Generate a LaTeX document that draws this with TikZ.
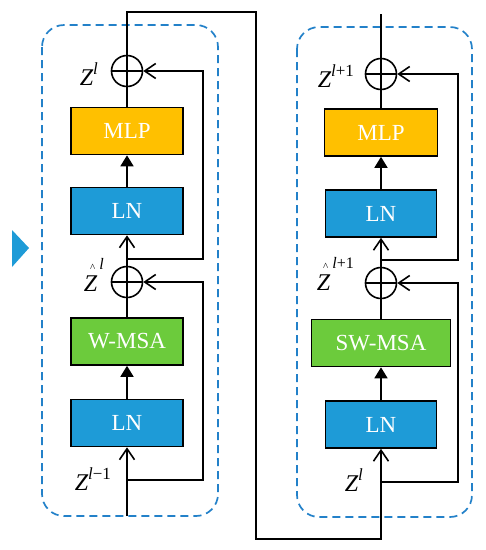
\documentclass[tikz,border=0pt]{standalone}
\usepackage{fontspec}
\setmainfont{Liberation Serif}
\usetikzlibrary{arrows.meta,positioning}
\definecolor{lnblue}{HTML}{1E9BD7}
\definecolor{mlporange}{HTML}{FFC000}
\definecolor{msagreen}{HTML}{6CCB3C}
\definecolor{dashblue}{HTML}{2381C9}
\newcommand\zsup[1]{Z\raisebox{11pt}{\fontsize{17}{17}\selectfont #1}}
\newcommand\zhat[1]{Z\hspace{-7pt}\raisebox{20pt}{\fontsize{11}{11}\selectfont\upshape\textasciicircum}\hspace{4pt}\raisebox{22pt}{\fontsize{16}{16}\selectfont #1}}
\begin{document}
\begin{tikzpicture}[x=1pt, y=-1pt, line width=1.6pt, font=\fontsize{23}{26}\selectfont]
    \tikzstyle{block}=[draw=black, line width=1.6pt, minimum width=112pt, minimum height=47pt, inner sep=0pt, text=white, align=center]
    \tikzstyle{lnbox}=[block, fill=lnblue]
    \tikzstyle{mlpbox}=[block, fill=mlporange]
    \tikzstyle{msabox}=[block, fill=msagreen]
    \tikzstyle{addop}=[draw, circle, minimum size=31pt, inner sep=0pt, path picture={\draw (path picture bounding box.west) -- (path picture bounding box.east) (path picture bounding box.north) -- (path picture bounding box.south);}]
    \tikzstyle{zlabel}=[font=\fontsize{24}{26}\selectfont\itshape, inner sep=0pt, anchor=base west]
    \tikzstyle{stage}=[draw=dashblue, line width=1.7pt, dash pattern=on 8pt off 5pt, rounded corners=22pt]
    \tikzstyle{skip}=[-{Straight Barb[length=11pt,width=15pt]}]
    \tikzstyle{feed}=[-{Triangle[length=11pt,width=13pt]}]

    \useasboundingbox (0,0) rectangle (486,550);

    \draw[stage] (42,25) rectangle (218,516);
    \draw[stage] (297,27) rectangle (472,517);
    \fill[lnblue] (12,230) -- (29,248) -- (12,267) -- cycle;

    % W-MSA block
    \node[addop] (add1L) at (127,71) {};
    \node[mlpbox] (mlpL) at (127,131) {MLP};
    \node[lnbox] (lnaL) at (127,211) {LN};
    \node[addop] (add2L) at (127,282) {};
    \node[msabox] (wmsaL) at (127,341.5) {W-MSA};
    \node[lnbox] (lnbL) at (127,423) {LN};

    \node[zlabel] (zl1) at (79,85) {\zsup{l}};
    \node[zlabel] (zl2) at (83,291) {\zhat{l}};
    \node[zlabel] (zl3) at (74,490) {\zsup{l\textup{−1}}};

    \coordinate (inL) at (127,516);
    \coordinate (brL1) at (127,259);
    \coordinate (brL2) at (127,480);
    \coordinate (skipL) at (203,0);

    % SW-MSA block
    \node[addop] (add1R) at (381,74) {};
    \node[mlpbox, minimum width=113pt] (mlpR) at (381,132.5) {MLP};
    \node[lnbox, minimum width=111pt] (lnaR) at (381,213.5) {LN};
    \node[addop] (add2R) at (381,283) {};
    \node[msabox, minimum width=139pt] (swmsaR) at (381,343) {SW-MSA};
    \node[lnbox, minimum width=111pt] (lnbR) at (381,424.5) {LN};

    \node[zlabel] (zr1) at (317,87) {\zsup{l\textup{+1}}};
    \node[zlabel] (zr2) at (316,290) {\zhat{l\textup{+1}}};
    \node[zlabel] (zr3) at (344,491) {\zsup{l}};

    \coordinate (outR) at (381,14);
    \coordinate (brR1) at (381,260);
    \coordinate (brR2) at (381,482);
    \coordinate (skipR) at (458,0);
    \coordinate (topM) at (256,12);
    \coordinate (botR) at (381,539);

    \draw[skip] (inL) -- (lnbL.south);
    \draw[feed] (lnbL.north) -- (wmsaL.south);
    \draw (wmsaL.north) -- (add2L.south);
    \draw[skip] (add2L.north) -- (lnaL.south);
    \draw[feed] (lnaL.north) -- (mlpL.south);
    \draw (mlpL.north) -- (add1L.south);
    \draw[skip] (brL2) -- (brL2 -| skipL) |- (add2L.east);
    \draw[skip] (brL1) -- (brL1 -| skipL) |- (add1L.east);

    \draw[skip] (add1L.north) |- (topM) |- (botR) -- (lnbR.south);
    \draw[feed] (lnbR.north) -- (swmsaR.south);
    \draw (swmsaR.north) -- (add2R.south);
    \draw[skip] (add2R.north) -- (lnaR.south);
    \draw[feed] (lnaR.north) -- (mlpR.south);
    \draw (mlpR.north) -- (add1R.south);
    \draw (add1R.north) -- (outR);
    \draw[skip] (brR2) -- (brR2 -| skipR) |- (add2R.east);
    \draw[skip] (brR1) -- (brR1 -| skipR) |- (add1R.east);
  \end{tikzpicture}
\end{document}
